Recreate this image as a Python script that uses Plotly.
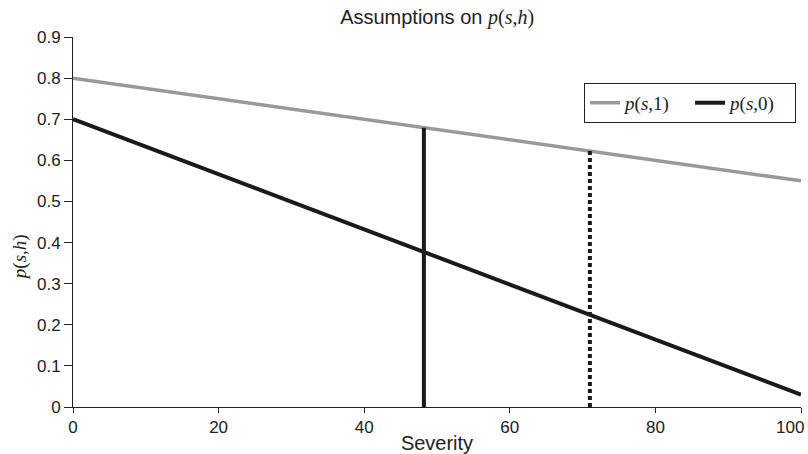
import plotly.graph_objects as go

severity = [0, 100]
p_s1 = [0.80, 0.55]
p_s0 = [0.70, 0.03]
threshold_solid = 48.2
threshold_dotted = 71.0
x_ticks = [0, 20, 40, 60, 80, 100]
y_ticks = [0, 0.1, 0.2, 0.3, 0.4, 0.5, 0.6, 0.7, 0.8, 0.9]
y_ticktext = ["0", "0.1", "0.2", "0.3", "0.4", "0.5", "0.6", "0.7", "0.8", "0.9"]

def interp(x, xs, ys):
    return ys[0] + (ys[1] - ys[0]) * (x - xs[0]) / (xs[1] - xs[0])

SERIF = "Liberation Serif"
SANS = "Liberation Sans"

def it(t):
    return f'<span style="font-family:{SERIF};font-style:italic">{t}</span>'

def rm(t):
    return f'<span style="font-family:{SERIF}">{t}</span>'

label_s1 = it("p") + rm("(") + it("s") + rm(",1)")
label_s0 = it("p") + rm("(") + it("s") + rm(",0)")
label_sh = it("p") + rm("(") + it("s") + rm(",") + it("h") + rm(")")

# last x tick label is drawn as an annotation so it can sit inside the page
x_ticktext = [str(v) for v in x_ticks[:-1]] + [""]
last_tick = x_ticks[-1]

fig = go.Figure()
fig.add_trace(go.Scatter(x=severity, y=p_s1, mode="lines", name=label_s1,
                         line=dict(color="#999999", width=3.5)))
fig.add_trace(go.Scatter(x=severity, y=p_s0, mode="lines", name=label_s0,
                         line=dict(color="#1a1a1a", width=4)))
fig.add_trace(go.Scatter(x=[threshold_solid, threshold_solid],
                         y=[0, interp(threshold_solid, severity, p_s1)],
                         mode="lines", showlegend=False,
                         line=dict(color="#1a1a1a", width=4)))
fig.add_trace(go.Scatter(x=[threshold_dotted, threshold_dotted],
                         y=[0, interp(threshold_dotted, severity, p_s1)],
                         mode="lines", showlegend=False,
                         line=dict(color="#1a1a1a", width=4, dash="4px,3px")))

fig.update_layout(
    width=808, height=454,
    margin=dict(l=73, r=7, t=37, b=47, autoexpand=False),
    paper_bgcolor="white", plot_bgcolor="white",
    font=dict(family=SANS, size=17, color="#222222"),
    title=dict(text="Assumptions on " + label_sh,
               x=0.541, xanchor="center", y=0.978, yanchor="top",
               font=dict(size=20, family=SANS, color="#222222")),
    showlegend=True,
    legend=dict(orientation="h", x=0.702, y=0.876, xanchor="left", yanchor="top",
                bordercolor="#222222", borderwidth=1, bgcolor="white",
                font=dict(size=19, family=SERIF), tracegroupgap=0,
                entrywidth=60, entrywidthmode="pixels"),
    xaxis=dict(range=[0, 100], tickvals=x_ticks, ticktext=x_ticktext,
               showgrid=False, zeroline=False, showline=True, linecolor="#222222", linewidth=1,
               ticks="outside", ticklen=5, tickcolor="#222222",
               tickfont=dict(size=17), automargin=False,
               title=dict(text="Severity", standoff=2, font=dict(size=20))),
    yaxis=dict(range=[0, 0.9], tickvals=y_ticks, ticktext=y_ticktext,
               showgrid=False, zeroline=False, showline=True, linecolor="#222222", linewidth=1,
               ticks="outside", ticklen=8, tickcolor="#222222", automargin=False,
               tickfont=dict(size=17)),
    annotations=[
        dict(text=label_sh, textangle=-90, xref="paper", yref="paper",
             x=0, y=0.405, xanchor="center", yanchor="middle", xshift=-53,
             showarrow=False, font=dict(size=19, color="#222222")),
        dict(text=str(last_tick), xref="x", yref="paper", x=last_tick, y=0,
             xanchor="right", yanchor="middle", xshift=5, yshift=-20,
             showarrow=False, font=dict(size=17, color="#222222")),
    ],
)

fig.write_html("out.html")
